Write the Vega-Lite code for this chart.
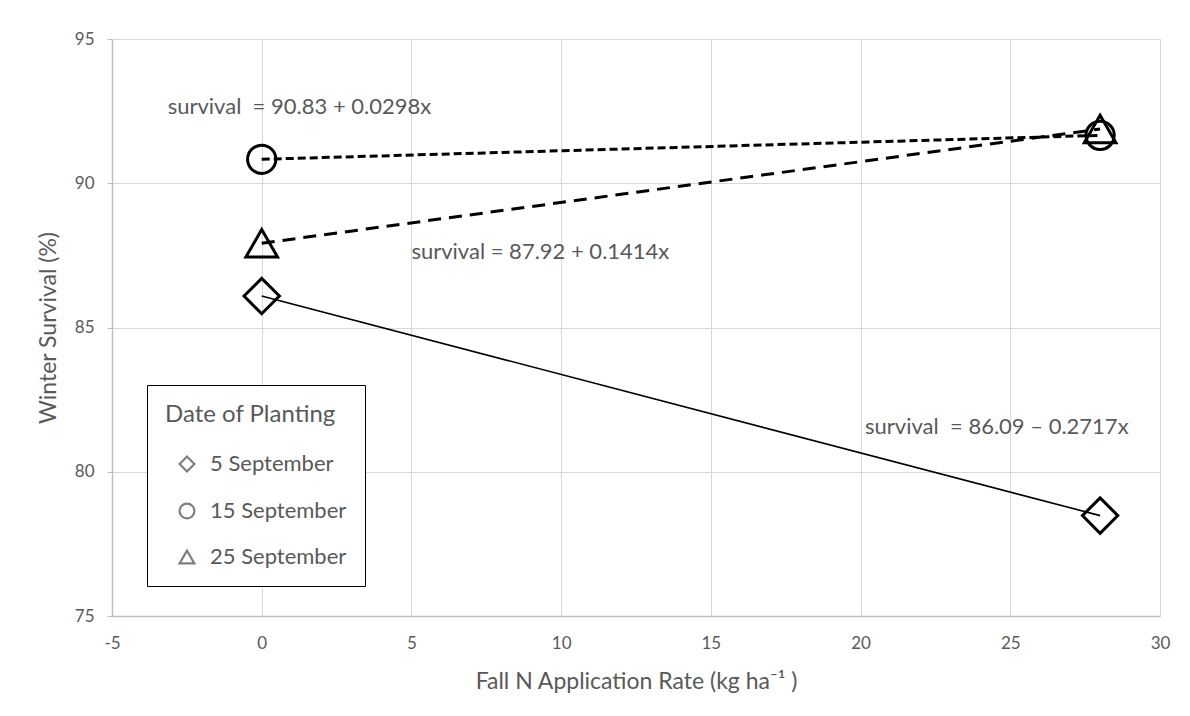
{
  "$schema": "https://vega.github.io/schema/vega-lite/v6.json",
  "width": 1048,
  "height": 577,
  "autosize": "none",
  "padding": {"left": 112, "top": 39, "right": 30, "bottom": 100},
  "background": "white",
  "config": {
    "font": "Lato",
    "view": {"stroke": null},
    "axis": {
      "gridColor": "#d9d9d9",
      "gridWidth": 1,
      "domainColor": "#bfbfbf",
      "domainWidth": 1.5,
      "tickColor": "#bfbfbf",
      "labelColor": "#595959",
      "labelFontSize": 17,
      "labelFlush": false,
      "titleColor": "#595959",
      "titleFontSize": 23,
      "titleFontWeight": "normal"
    }
  },
  "datasets": {
    "points": [
      {"series": "5 September", "rate": 0, "survival": 86.09},
      {"series": "5 September", "rate": 28, "survival": 78.48},
      {"series": "15 September", "rate": 0, "survival": 90.83},
      {"series": "15 September", "rate": 28, "survival": 91.66},
      {"series": "25 September", "rate": 0, "survival": 87.92},
      {"series": "25 September", "rate": 28, "survival": 91.88}
    ],
    "notes": [
      {"rate": -3.14, "survival": 92.64, "label": "survival\u00a0 = 90.83 + 0.0298x"},
      {"rate": 5.0, "survival": 87.62, "label": "survival = 87.92 + 0.1414x"},
      {"rate": 20.15, "survival": 81.55, "label": "survival\u00a0 = 86.09 – 0.2717x"}
    ]
  },
  "layer": [
    {
      "data": {"name": "points"},
      "transform": [{"filter": "datum.series === '5 September'"}],
      "mark": {"type": "line", "color": "black", "strokeWidth": 1.6},
      "encoding": {
        "x": {
          "field": "rate", "type": "quantitative",
          "scale": {"domain": [-5, 30], "nice": false, "zero": false},
          "axis": {
            "title": "Fall N Application Rate (kg ha⁻¹ )",
            "values": [-5, 0, 5, 10, 15, 20, 25, 30],
            "labelExpr": "replace(datum.label, '−', '-')",
            "ticks": false,
            "labelPadding": 19,
            "titlePadding": 19
          }
        },
        "y": {
          "field": "survival", "type": "quantitative",
          "scale": {"domain": [75, 95], "nice": false, "zero": false},
          "axis": {
            "title": "Winter Survival (%)",
            "values": [75, 80, 85, 90, 95],
            "tickSize": 5,
            "labelPadding": 13,
            "titlePadding": 14
          }
        }
      }
    },
    {
      "data": {"name": "points"},
      "transform": [{"filter": "datum.series === '15 September'"}],
      "mark": {"type": "line", "color": "black", "strokeWidth": 3, "strokeDash": [8, 4]},
      "encoding": {
        "x": {"field": "rate", "type": "quantitative"},
        "y": {"field": "survival", "type": "quantitative"}
      }
    },
    {
      "data": {"name": "points"},
      "transform": [{"filter": "datum.series === '25 September'"}],
      "mark": {"type": "line", "color": "black", "strokeWidth": 3, "strokeDash": [13, 8]},
      "encoding": {
        "x": {"field": "rate", "type": "quantitative"},
        "y": {"field": "survival", "type": "quantitative"}
      }
    },
    {
      "data": {"name": "points"},
      "transform": [{"filter": "datum.series === '5 September'"}],
      "mark": {"type": "point", "filled": false, "color": "black", "strokeWidth": 3, "opacity": 1, "size": 1250},
      "encoding": {
        "x": {"field": "rate", "type": "quantitative"},
        "y": {"field": "survival", "type": "quantitative"},
        "shape": {
          "field": "series", "type": "nominal",
          "scale": {"domain": ["5 September", "15 September", "25 September"], "range": ["diamond", "circle", "triangle-up"]},
          "legend": {
            "title": "Date of Planting",
            "orient": "none",
            "legendX": 35,
            "legendY": 346,
            "padding": 18,
            "strokeColor": "black",
            "fillColor": "white",
            "titleFontSize": 24,
            "titleFontWeight": "normal",
            "titleColor": "#595959",
            "titlePadding": 26,
            "labelFontSize": 22,
            "labelColor": "#595959",
            "symbolSize": 220,
            "symbolStrokeColor": "#7f7f7f",
            "symbolStrokeWidth": 2.2,
            "symbolOffset": 11,
            "rowPadding": 23,
            "labelOffset": 12,
            "encode": {
              "legend": {"update": {"strokeWidth": {"value": 1.5}}},
              "symbols": {"update": {
                "stroke": {"value": "#7f7f7f"},
                "fill": {"value": "transparent"},
                "size": {"signal": "datum.value === '25 September' ? 520 : 220"},
                "opacity": {"value": 1}
              }}
            }
          }
        }
      }
    },
    {
      "data": {"name": "points"},
      "transform": [{"filter": "datum.series === '15 September'"}],
      "mark": {"type": "point", "shape": "circle", "filled": false, "color": "black", "strokeWidth": 3, "opacity": 1, "size": 800},
      "encoding": {
        "x": {"field": "rate", "type": "quantitative"},
        "y": {"field": "survival", "type": "quantitative"}
      }
    },
    {
      "data": {"name": "points"},
      "transform": [{"filter": "datum.series === '25 September'"}],
      "mark": {"type": "point", "shape": "triangle-up", "filled": false, "color": "black", "strokeWidth": 3, "opacity": 1, "size": 1000},
      "encoding": {
        "x": {"field": "rate", "type": "quantitative"},
        "y": {"field": "survival", "type": "quantitative"}
      }
    },
    {
      "data": {"name": "notes"},
      "mark": {"type": "text", "align": "left", "baseline": "middle", "fontSize": 22, "color": "#595959"},
      "encoding": {
        "x": {"field": "rate", "type": "quantitative"},
        "y": {"field": "survival", "type": "quantitative"},
        "text": {"field": "label"}
      }
    }
  ]
}
